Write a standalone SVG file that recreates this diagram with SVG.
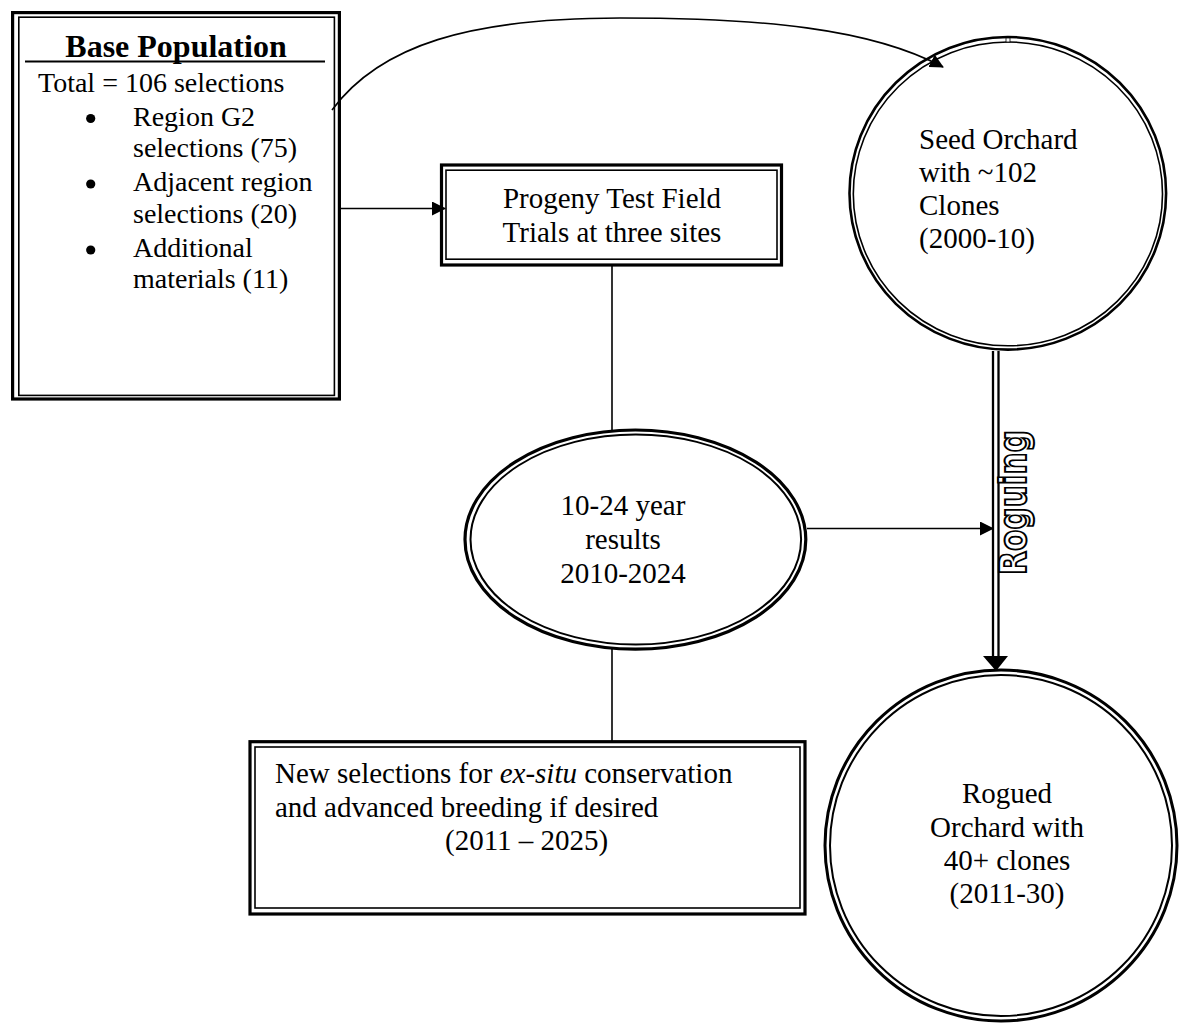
<svg xmlns="http://www.w3.org/2000/svg" width="1183" height="1029" viewBox="0 0 1183 1029">
<style>
  .txt { font-family: "Liberation Serif", "Times New Roman", serif; font-size: 29px; fill: #000; }
  .list { font-size: 28px; }
  .head { font-family: "Liberation Serif", "Times New Roman", serif; font-size: 32px; font-weight: bold; fill: #000; }
  .thick { fill: none; stroke: #000; stroke-width: 3.2; }
  .thin { fill: none; stroke: #000; stroke-width: 1.6; }
  .conn { fill: none; stroke: #000; stroke-width: 1.6; }
  .rog { font-family: "DejaVu Sans", "Verdana", sans-serif; font-weight: bold; font-size: 38px; fill: #fff; stroke: #000; stroke-width: 2; }
</style>
<defs>
  <marker id="arr" viewBox="0 0 14 14" refX="13" refY="7" markerWidth="14" markerHeight="14" markerUnits="userSpaceOnUse" orient="auto">
    <path d="M0,0 L14,7 L0,14 Z" fill="#000"/>
  </marker>
</defs>
<rect width="1183" height="1029" fill="#fff"/>

<g id="connectors">
  <path class="conn" d="M332,110 C380,45 470,18 620,18 C760,18 870,28 943,67" marker-end="url(#arr)"/>
  <line class="conn" x1="341" y1="208.5" x2="445" y2="208.5" marker-end="url(#arr)"/>
  <line class="conn" x1="612" y1="266" x2="612" y2="430"/>
  <line class="conn" x1="612" y1="649" x2="612" y2="741"/>
  <line class="conn" x1="807" y1="528.5" x2="993" y2="528.5" marker-end="url(#arr)"/>
  <g id="roguing-arrow">
    <line x1="993" y1="351" x2="993" y2="660" stroke="#000" stroke-width="2.3"/>
    <line x1="998.5" y1="351" x2="998.5" y2="660" stroke="#000" stroke-width="2.3"/>
    <path d="M983,656 L1008,656 L996,671 Z" fill="#000"/>
  </g>
</g>

<g id="base-population">
  <rect class="thick" x="12.6" y="12.6" width="326.8" height="386.4"/>
  <rect class="thin" x="18.8" y="17.2" width="315.6" height="378.2"/>
  <text class="head" x="176" y="57" text-anchor="middle">Base Population</text>
  <line x1="25" y1="61.5" x2="325" y2="61.5" stroke="#000" stroke-width="2"/>
  <text class="txt list" x="38" y="92">Total = 106 selections</text>
  <circle cx="90.7" cy="118.5" r="4.6" fill="#000"/>
  <text class="txt list" x="133" y="126">Region G2</text>
  <text class="txt list" x="133" y="157">selections (75)</text>
  <circle cx="90.7" cy="184" r="4.6" fill="#000"/>
  <text class="txt list" x="133" y="191">Adjacent region</text>
  <text class="txt list" x="133" y="223">selections (20)</text>
  <circle cx="90.7" cy="250" r="4.6" fill="#000"/>
  <text class="txt list" x="133" y="257">Additional</text>
  <text class="txt list" x="133" y="288">materials (11)</text>
</g>

<g id="progeny-test">
  <rect class="thick" x="441.5" y="165" width="340" height="100"/>
  <rect class="thin" x="446" y="170.2" width="331" height="89"/>
  <text class="txt" x="612" y="208" text-anchor="middle">Progeny Test Field</text>
  <text class="txt" x="612" y="242" text-anchor="middle">Trials at three sites</text>
</g>

<g id="seed-orchard">
  <ellipse class="thick" cx="1007.8" cy="193.3" rx="158.3" ry="156.3" style="stroke-width:2.6"/>
  <ellipse class="thin" cx="1007.9" cy="193.9" rx="154.6" ry="151.9"/>
  <rect x="1006" y="38" width="4" height="4" fill="#fff" stroke="#000" stroke-width="0.8"/>
  <text class="txt" x="919" y="149">Seed Orchard</text>
  <text class="txt" x="919" y="182">with ~102</text>
  <text class="txt" x="919" y="215">Clones</text>
  <text class="txt" x="919" y="248">(2000-10)</text>
</g>

<g id="results">
  <ellipse class="thick" cx="635.4" cy="539.6" rx="170.4" ry="109.6"/>
  <ellipse class="thin" cx="635.8" cy="539.5" rx="165.3" ry="105" style="stroke-width:2"/>
  <text class="txt" x="623" y="515" text-anchor="middle">10-24 year</text>
  <text class="txt" x="623" y="549" text-anchor="middle">results</text>
  <text class="txt" x="623" y="583" text-anchor="middle">2010-2024</text>
</g>

<g id="new-selections">
  <rect class="thick" x="250" y="741.7" width="555" height="172.3"/>
  <rect class="thin" x="255" y="747" width="545" height="161"/>
  <text class="txt" x="275" y="783">New selections for <tspan font-style="italic">ex-situ</tspan> conservation</text>
  <text class="txt" x="275" y="817">and advanced breeding if desired</text>
  <text class="txt" x="445" y="850">(2011 – 2025)</text>
</g>

<g id="rogued-orchard">
  <ellipse class="thick" cx="1001" cy="845.5" rx="176" ry="175.5" style="stroke-width:3"/>
  <ellipse class="thin" cx="1001" cy="845.5" rx="171" ry="170.5" style="stroke-width:2"/>
  <text class="txt" x="1007" y="803" text-anchor="middle">Rogued</text>
  <text class="txt" x="1007" y="837" text-anchor="middle">Orchard with</text>
  <text class="txt" x="1007" y="870" text-anchor="middle">40+ clones</text>
  <text class="txt" x="1007" y="903" text-anchor="middle">(2011-30)</text>
</g>

<g id="roguing-label">
  <text class="rog" transform="translate(1026,575) rotate(-90)" x="0" y="0" textLength="145" lengthAdjust="spacingAndGlyphs">Roguing</text>
</g>
</svg>
